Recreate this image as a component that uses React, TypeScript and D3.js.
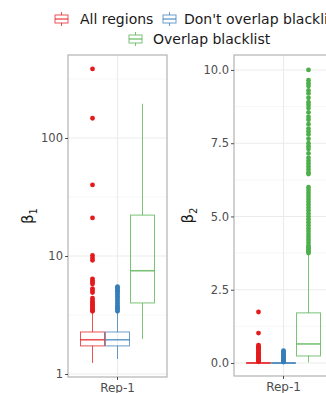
import React, { useRef, useEffect } from 'react';
import * as d3 from 'd3';

// groups (legend order) and colours
const groups = ['All regions', "Don't overlap blacklist", 'Overlap blacklist'];
const groupColors = ['#E41A1C', '#377EB8', '#4DAF4A'];
const categories = ['Rep-1'];

// beta1 (log scale) box stats: [whiskerLow, q1, median, q3, whiskerHigh]
const beta1Stats = [
  [1.24, 1.73, 1.95, 2.27, 3.3],
  [1.34, 1.73, 1.95, 2.27, 3.3],
  [1.98, 4.0, 7.5, 22.2, 195],
];
const beta1Outliers = [
  [385, 147, 40, 21, 10.1, 9.6, 9.2, 6.4, 6.2, 6.0, 5.8, 5.3, 5.1, 4.9, 4.4, 4.25, 4.1, 4.0, 3.9, 3.8, 3.7, 3.6, 3.5, 3.45, 3.4],
  [5.5, 5.4, 5.25, 5.1, 5.0, 4.85, 4.7, 4.55, 4.4, 4.25, 4.1, 3.95, 3.8, 3.7, 3.6, 3.5, 3.4],
  [],
];
const beta1Ticks = [1, 10, 100];
const beta1Minor = [3.162, 31.62, 316.2];

// beta2 (linear scale)
const beta2Stats = [
  [0, 0, 0, 0.01, 0.02],
  [0, 0, 0, 0.005, 0.01],
  [0.02, 0.24, 0.65, 1.71, 3.7],
];
const beta2Outliers = [
  [1.74, 1.02, 0.61, 0.57, 0.53, 0.49, 0.45, 0.41, 0.37, 0.33, 0.29, 0.25, 0.21, 0.17, 0.14, 0.11, 0.08, 0.06, 0.04],
  [0.42, 0.39, 0.35, 0.31, 0.27, 0.23, 0.19, 0.15, 0.12, 0.09, 0.06, 0.04, 0.03],
  [10.0, 9.65, 9.55, 9.45, 9.3, 9.2, 9.05, 8.9, 8.8, 8.7, 8.55, 8.4, 8.3, 8.15, 8.0, 7.9, 7.8, 7.65, 7.5, 7.4, 7.3,
    7.15, 7.0, 6.9, 6.8, 6.7, 6.6, 6.5, 6.45, 6.0, 5.9, 5.8, 5.7, 5.6, 5.5, 5.4, 5.3, 5.2, 5.1, 5.0, 4.9, 4.8, 4.7,
    4.6, 4.5, 4.4, 4.3, 4.2, 4.1, 4.0, 3.95, 3.9, 3.85, 3.8, 3.75],
];
const beta2Ticks = [0, 2.5, 5, 7.5, 10];
const beta2Minor = [1.25, 3.75, 6.25, 8.75];

const FONT = 'DejaVu Sans, sans-serif';

const App = () => {
  const svgRef = useRef(null);

  useEffect(() => {
    const svg = d3.select(svgRef.current);
    svg.selectAll('*').remove();

    const drawPanel = (opts) => {
      const { left, right, top, bottom, yScale, ticks, minor, stats, outliers, sub, labelX, fmt } = opts;
      const g = svg.append('g');
      const xCat = d3.scaleBand().domain(categories).range([left, right]).paddingInner(0).paddingOuter(0);
      const center = xCat('Rep-1') + xCat.bandwidth() / 2;
      const xGroup = d3.scaleBand().domain(groups).range([center - 37.5, center + 37.5]);

      g.append('rect')
        .attr('x', left).attr('y', top)
        .attr('width', right - left).attr('height', bottom - top)
        .attr('fill', 'white');

      // grid
      g.selectAll('.minor').data(minor).enter().append('line')
        .attr('x1', left).attr('x2', right)
        .attr('y1', d => yScale(d)).attr('y2', d => yScale(d))
        .attr('stroke', '#f2f2f2').attr('stroke-width', 0.7);
      g.selectAll('.major').data(ticks).enter().append('line')
        .attr('x1', left).attr('x2', right)
        .attr('y1', d => yScale(d)).attr('y2', d => yScale(d))
        .attr('stroke', '#ebebeb').attr('stroke-width', 1.1);
      g.append('line')
        .attr('x1', center).attr('x2', center)
        .attr('y1', top).attr('y2', bottom)
        .attr('stroke', '#ebebeb').attr('stroke-width', 1.1);

      // boxes
      stats.forEach((s, i) => {
        const x0 = xGroup(groups[i]);
        const w = xGroup.bandwidth();
        const cx = x0 + w / 2;
        const col = groupColors[i];
        const bg = g.append('g').attr('stroke', col).attr('stroke-opacity', 0.75);
        bg.append('line').attr('x1', cx).attr('x2', cx)
          .attr('y1', yScale(s[0])).attr('y2', yScale(s[1])).attr('stroke-width', 1);
        bg.append('line').attr('x1', cx).attr('x2', cx)
          .attr('y1', yScale(s[3])).attr('y2', yScale(s[4])).attr('stroke-width', 1);
        bg.append('rect')
          .attr('x', x0 + 0.5).attr('width', w - 1)
          .attr('y', yScale(s[3])).attr('height', Math.max(yScale(s[1]) - yScale(s[3]), 0.5))
          .attr('fill', 'white').attr('fill-opacity', 0.01).attr('stroke-width', 1);
        bg.append('line').attr('x1', x0 + 0.5).attr('x2', x0 + w - 0.5)
          .attr('y1', yScale(s[2])).attr('y2', yScale(s[2])).attr('stroke-width', 1.6);
        g.selectAll(null).data(outliers[i]).enter().append('circle')
          .attr('cx', cx).attr('cy', d => yScale(d)).attr('r', 2.4)
          .attr('fill', col);
      });

      // border
      g.append('rect')
        .attr('x', left).attr('y', top)
        .attr('width', right - left).attr('height', bottom - top)
        .attr('fill', 'none').attr('stroke', '#b3b3b3').attr('stroke-width', 1.2);

      // y axis
      const yAxis = g.append('g')
        .attr('transform', `translate(${left},0)`)
        .call(d3.axisLeft(yScale).tickValues(ticks).tickSize(3).tickPadding(2).tickFormat(fmt));
      yAxis.select('.domain').remove();
      yAxis.selectAll('line').attr('stroke', '#4d4d4d');
      yAxis.selectAll('text').attr('fill', '#4d4d4d').style('font-size', '11.5px').style('font-family', FONT);

      // x axis
      const xAxis = g.append('g')
        .attr('transform', `translate(0,${bottom})`)
        .call(d3.axisBottom(xCat).tickSize(3).tickPadding(3));
      xAxis.select('.domain').remove();
      xAxis.selectAll('line').attr('stroke', '#4d4d4d');
      xAxis.selectAll('text').attr('fill', '#4d4d4d').style('font-size', '12px').style('font-family', FONT);

      // y title
      const t = g.append('text')
        .attr('transform', `translate(${labelX},${(top + bottom) / 2}) rotate(-90)`)
        .attr('text-anchor', 'middle')
        .attr('fill', '#1a1a1a')
        .style('font-family', FONT)
        .style('font-size', '15px');
      t.append('tspan').text('β');
      t.append('tspan').attr('font-size', '10px').attr('dy', 4).text(sub);
    };

    drawPanel({
      left: 68, right: 167, top: 55, bottom: 377,
      yScale: d3.scaleLog().domain([0.943, 505]).range([377, 55]),
      ticks: beta1Ticks, minor: beta1Minor,
      stats: beta1Stats, outliers: beta1Outliers,
      sub: '1', labelX: 33, fmt: d3.format('d'),
    });

    drawPanel({
      left: 234, right: 333, top: 55, bottom: 376,
      yScale: d3.scaleLinear().domain([-0.444, 10.51]).range([376, 55]),
      ticks: beta2Ticks, minor: beta2Minor,
      stats: beta2Stats, outliers: beta2Outliers,
      sub: '2', labelX: 193, fmt: d3.format('.1f'),
    });

    // legend
    const legendItems = [
      { x: 55, y: 19, tx: 80 },
      { x: 163, y: 19, tx: 184 },
      { x: 129, y: 39, tx: 153 },
    ];
    legendItems.forEach((it, i) => {
      const lg = svg.append('g').attr('stroke', groupColors[i]).attr('stroke-opacity', 0.75);
      const cx = it.x + 6.5;
      lg.append('line').attr('x1', cx).attr('x2', cx).attr('y1', it.y - 7).attr('y2', it.y + 7);
      lg.append('rect').attr('x', it.x).attr('y', it.y - 4).attr('width', 13).attr('height', 8)
        .attr('fill', 'white').attr('stroke-width', 1);
      lg.append('line').attr('x1', it.x).attr('x2', it.x + 13).attr('y1', it.y).attr('y2', it.y).attr('stroke-width', 1.4);
      svg.append('text')
        .attr('x', it.tx).attr('y', it.y + 5)
        .attr('fill', '#1a1a1a')
        .style('font-family', FONT)
        .style('font-size', '14px')
        .text(groups[i]);
    });
  }, []);

  return (
    <svg ref={svgRef} width={326} height={393}
      style={{ position: 'absolute', left: 0, top: 0, background: 'white' }} />
  );
};

export default App;
